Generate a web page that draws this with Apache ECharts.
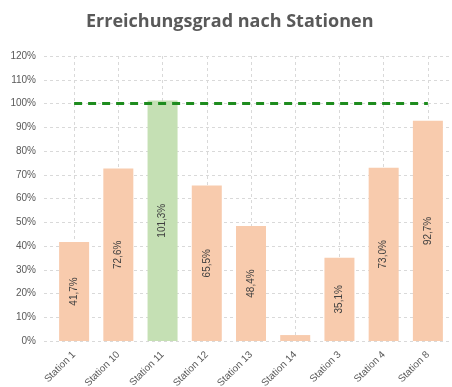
<!DOCTYPE html>
<html><head><meta charset="utf-8">
<script src="https://cdn.jsdelivr.net/npm/echarts@6/dist/echarts.min.js"></script>
<style>html,body{margin:0;padding:0;background:#fff}#c{width:452px;height:387px}</style>
</head><body><div id="c"></div>
<script>
const categories = ['Station 1','Station 10','Station 11','Station 12','Station 13','Station 14','Station 3','Station 4','Station 8'];
const values = [41.7, 72.6, 101.3, 65.5, 48.4, 2.5, 35.1, 73.0, 92.7];
const targetValues = [100, 100, 100, 100, 100, 100, 100, 100, 100];
const yTicks = [0,10,20,30,40,50,60,70,80,90,100,110,120];

const fmt = v => v.toFixed(1).replace('.', ',') + '%';
const chart = echarts.init(document.getElementById('c'), null, {renderer:'canvas'});
const txt = '#595959';
chart.setOption({
  animation:false,
  backgroundColor:'#fff',
  title:{text:'Erreichungsgrad nach Stationen', left:86, top:13, padding:0,
    textStyle:{fontFamily:'Open Sans', fontWeight:'bold', fontSize:18, color:txt}},
  grid:[
    {left:52, right:2, top:56, bottom:46, containLabel:false, outerBoundsMode:'none'},
    {left:44, right:0, top:56, bottom:46, containLabel:false, outerBoundsMode:'none'}
  ],
  xAxis:[
    {type:'category', gridIndex:0, data:categories,
      axisLine:{show:false}, axisTick:{show:false},
      axisLabel:{rotate:45, fontSize:10, color:txt, fontFamily:'Arial', margin:12},
      splitLine:{show:true, alignWithLabel:true, lineStyle:{type:[3,3], color:'#d9d9d9'}}},
    {type:'value', gridIndex:1, show:false, min:0, max:1}
  ],
  yAxis:[
    {type:'value', gridIndex:0, min:0, max:120, interval:10, show:false, splitLine:{show:false}},
    {type:'value', gridIndex:1, min:yTicks[0], max:yTicks[yTicks.length-1], interval:10,
      axisLine:{show:false}, axisTick:{show:false},
      axisLabel:{fontSize:10, color:txt, fontFamily:'Arial', margin:8, formatter:v=>v+'%'},
      splitLine:{show:true, lineStyle:{type:[3,3], color:'#d9d9d9'}}}
  ],
  series:[
    {type:'bar', xAxisIndex:0, yAxisIndex:0, barWidth:30, z:2,
      data: values.map(v=>({value:v,
        itemStyle:{color: v>=100 ? '#c5e0b4' : '#f8cbad'},
        label:{show: v>=5}})),
      label:{position:'inside', rotate:90, fontSize:10, color:'#404040', fontFamily:'Arial',
        formatter:p=>fmt(p.value)}},
    {type:'line', xAxisIndex:0, yAxisIndex:0, data:targetValues, symbol:'none', z:3,
      lineStyle:{color:'#1e8c1e', width:3, type:[8,6]}}
  ]
});
</script></body></html>
